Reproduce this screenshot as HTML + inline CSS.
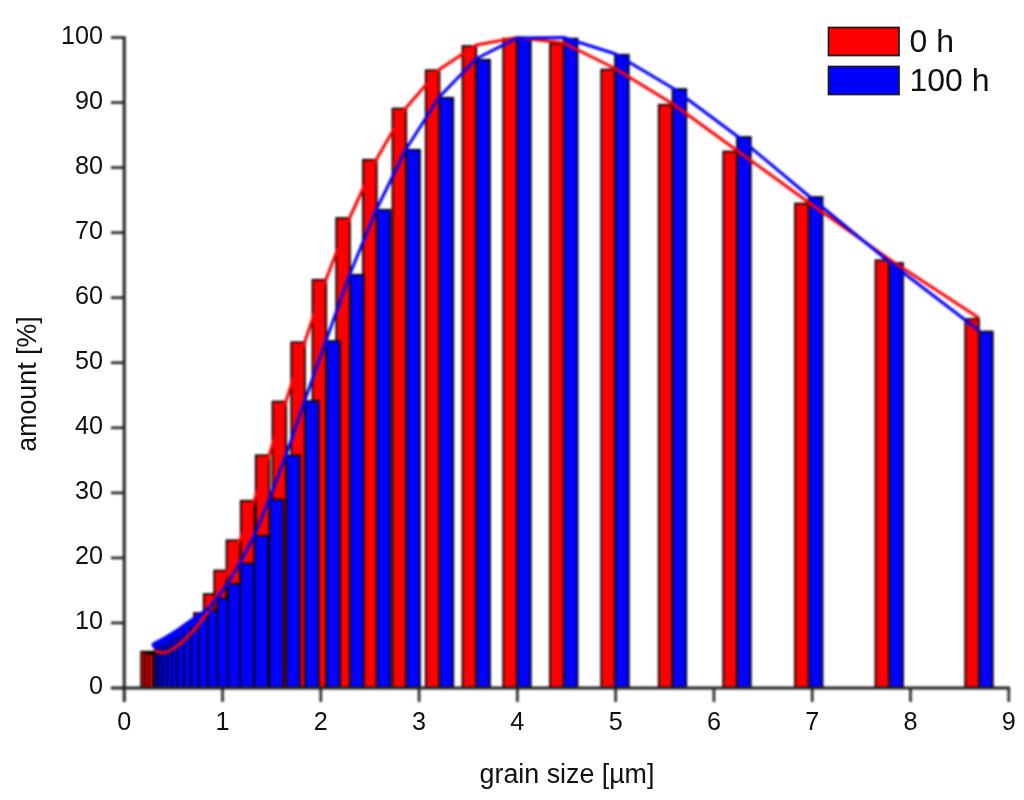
<!DOCTYPE html>
<html lang="en"><head><meta charset="utf-8"><title>grain size distribution</title>
<style>
html,body{margin:0;padding:0;background:#fff;}
body{width:1024px;height:800px;overflow:hidden;}
svg{display:block;}
text{font-family:"Liberation Sans",Arial,sans-serif;fill:#101010;}
.t{font-size:25.2px;}
.l{font-size:32px;}
.rb{fill:#ff0000;stroke:#000;stroke-width:1.7;}
.bb{fill:#0000ff;stroke:#000;stroke-width:1.7;}
.ax{stroke:#222;fill:none;}
</style></head><body>
<svg width="1024" height="800" viewBox="0 0 1024 800">
<defs><filter id="soft" x="0" y="0" width="1024" height="800" filterUnits="userSpaceOnUse" color-interpolation-filters="sRGB"><feGaussianBlur stdDeviation="0.85" color-interpolation-filters="sRGB"/></filter><clipPath id="cp"><rect x="100" y="37.2" width="924" height="652"/></clipPath></defs>

<g filter="url(#soft)"><rect x="0" y="0" width="1024" height="800" fill="#fff"/>
<g clip-path="url(#cp)">
<rect class="rb" x="141.10" y="651.60" width="13.80" height="36.40"/>
<rect class="rb" x="144.70" y="653.00" width="13.80" height="35.00"/>
<rect class="rb" x="148.70" y="654.00" width="13.80" height="34.00"/>
<rect class="rb" x="153.20" y="653.00" width="13.80" height="35.00"/>
<rect class="rb" x="158.20" y="650.50" width="13.80" height="37.50"/>
<rect class="rb" x="163.80" y="646.50" width="13.80" height="41.50"/>
<rect class="rb" x="170.00" y="641.50" width="13.80" height="46.50"/>
<rect class="rb" x="177.00" y="634.50" width="13.80" height="53.50"/>
<rect class="rb" x="184.80" y="625.50" width="13.80" height="62.50"/>
<rect class="rb" x="193.95" y="613.00" width="13.80" height="75.00"/>
<rect class="rb" x="203.70" y="594.00" width="13.80" height="94.00"/>
<rect class="rb" x="214.20" y="570.50" width="13.80" height="117.50"/>
<rect class="rb" x="226.45" y="540.25" width="13.80" height="147.75"/>
<rect class="rb" x="240.70" y="500.75" width="13.80" height="187.25"/>
<rect class="rb" x="255.70" y="455.25" width="13.80" height="232.75"/>
<rect class="rb" x="272.45" y="401.50" width="13.80" height="286.50"/>
<rect class="rb" x="291.20" y="342.25" width="13.80" height="345.75"/>
<rect class="rb" x="312.45" y="279.75" width="13.80" height="408.25"/>
<rect class="rb" x="336.20" y="218.00" width="13.80" height="470.00"/>
<rect class="rb" x="362.95" y="159.75" width="13.80" height="528.25"/>
<rect class="rb" x="392.45" y="108.50" width="13.80" height="579.50"/>
<rect class="rb" x="425.70" y="70.25" width="13.80" height="617.75"/>
<rect class="rb" x="462.45" y="46.00" width="13.80" height="642.00"/>
<rect class="rb" x="503.20" y="38.50" width="13.80" height="649.50"/>
<rect class="rb" x="549.95" y="44.00" width="13.80" height="644.00"/>
<rect class="rb" x="601.20" y="69.50" width="13.80" height="618.50"/>
<rect class="rb" x="658.70" y="104.75" width="13.80" height="583.25"/>
<rect class="rb" x="723.20" y="151.50" width="13.80" height="536.50"/>
<rect class="rb" x="794.95" y="203.50" width="13.80" height="484.50"/>
<rect class="rb" x="875.45" y="260.25" width="13.80" height="427.75"/>
<rect class="rb" x="965.20" y="319.00" width="13.80" height="369.00"/>
<rect class="bb" x="154.90" y="644.50" width="13.80" height="43.50"/>
<rect class="bb" x="158.50" y="642.50" width="13.80" height="45.50"/>
<rect class="bb" x="162.50" y="640.50" width="13.80" height="47.50"/>
<rect class="bb" x="167.00" y="638.00" width="13.80" height="50.00"/>
<rect class="bb" x="172.00" y="635.00" width="13.80" height="53.00"/>
<rect class="bb" x="177.60" y="631.50" width="13.80" height="56.50"/>
<rect class="bb" x="183.80" y="627.00" width="13.80" height="61.00"/>
<rect class="bb" x="190.80" y="622.00" width="13.80" height="66.00"/>
<rect class="bb" x="198.60" y="616.50" width="13.80" height="71.50"/>
<rect class="bb" x="207.75" y="610.50" width="13.80" height="77.50"/>
<rect class="bb" x="217.50" y="598.50" width="13.80" height="89.50"/>
<rect class="bb" x="228.00" y="584.00" width="13.80" height="104.00"/>
<rect class="bb" x="240.25" y="563.50" width="13.80" height="124.50"/>
<rect class="bb" x="254.50" y="536.00" width="13.80" height="152.00"/>
<rect class="bb" x="269.50" y="499.50" width="13.80" height="188.50"/>
<rect class="bb" x="286.25" y="455.50" width="13.80" height="232.50"/>
<rect class="bb" x="305.00" y="401.00" width="13.80" height="287.00"/>
<rect class="bb" x="326.25" y="341.00" width="13.80" height="347.00"/>
<rect class="bb" x="350.00" y="274.75" width="13.80" height="413.25"/>
<rect class="bb" x="376.75" y="209.75" width="13.80" height="478.25"/>
<rect class="bb" x="406.25" y="149.75" width="13.80" height="538.25"/>
<rect class="bb" x="439.50" y="97.75" width="13.80" height="590.25"/>
<rect class="bb" x="476.25" y="59.75" width="13.80" height="628.25"/>
<rect class="bb" x="517.00" y="39.00" width="13.80" height="649.00"/>
<rect class="bb" x="563.75" y="38.50" width="13.80" height="649.50"/>
<rect class="bb" x="615.00" y="54.75" width="13.80" height="633.25"/>
<rect class="bb" x="672.50" y="89.00" width="13.80" height="599.00"/>
<rect class="bb" x="737.00" y="137.00" width="13.80" height="551.00"/>
<rect class="bb" x="808.75" y="197.00" width="13.80" height="491.00"/>
<rect class="bb" x="889.25" y="263.00" width="13.80" height="425.00"/>
<rect class="bb" x="979.00" y="331.50" width="13.80" height="356.50"/>
</g>
<path d="M154.90 645.10 L158.50 643.10 L162.50 641.10 L167.00 638.60 L172.00 635.60 L177.60 632.10 L183.80 627.60 L190.80 622.60 L198.60 617.10 L207.75 611.10" fill="none" stroke="#0000ff" stroke-width="6.5" stroke-linejoin="round" stroke-linecap="round"/>
<path d="M154.90 650.60 L158.50 652.00 L162.50 653.00 L167.00 652.00 L172.00 649.50 L177.60 645.50 L183.80 640.50 L190.80 633.50 L198.60 624.50 L207.75 612.00 L217.50 593.00 L228.00 569.50 L240.25 539.25 L254.50 499.75 L269.50 454.25 L286.25 400.50 L305.00 341.25 L326.25 278.75 L350.00 217.00 L376.75 158.75 L406.25 107.50 L439.50 69.25 L476.25 45.00 L517.00 37.50 L563.75 43.00 L615.00 68.50 L672.50 103.75 L737.00 150.50 L808.75 202.50 L889.25 259.25 L979.00 318.00" fill="none" stroke="#ff0000" stroke-width="3" stroke-linejoin="round"/>
<path d="M154.90 643.50 L158.50 641.50 L162.50 639.50 L167.00 637.00 L172.00 634.00 L177.60 630.50 L183.80 626.00 L190.80 621.00 L198.60 615.50 L207.75 609.50 L217.50 597.50 L228.00 583.00 L240.25 562.50 L254.50 535.00 L269.50 498.50 L286.25 454.50 L305.00 400.00 L326.25 340.00 L350.00 273.75 L376.75 208.75 L406.25 148.75 L439.50 96.75 L476.25 58.75 L517.00 38.00 L563.75 37.50 L615.00 53.75 L672.50 88.00 L737.00 136.00 L808.75 196.00 L889.25 262.00 L979.00 330.50" fill="none" stroke="#0000ff" stroke-width="3" stroke-linejoin="round"/>
<g class="ax">
<path d="M124.25 36.20 V702.00" stroke-width="3"/>
<path d="M111.00 688.00 H1010.07" stroke-width="3"/>
<path d="M111 622.95 H124.25" stroke-width="2.6"/>
<path d="M111 557.90 H124.25" stroke-width="2.6"/>
<path d="M111 492.85 H124.25" stroke-width="2.6"/>
<path d="M111 427.80 H124.25" stroke-width="2.6"/>
<path d="M111 362.75 H124.25" stroke-width="2.6"/>
<path d="M111 297.70 H124.25" stroke-width="2.6"/>
<path d="M111 232.65 H124.25" stroke-width="2.6"/>
<path d="M111 167.60 H124.25" stroke-width="2.6"/>
<path d="M111 102.55 H124.25" stroke-width="2.6"/>
<path d="M111 37.50 H124.25" stroke-width="2.6"/>
<path d="M222.53 688.00 V702.00" stroke-width="2.6"/>
<path d="M320.81 688.00 V702.00" stroke-width="2.6"/>
<path d="M419.09 688.00 V702.00" stroke-width="2.6"/>
<path d="M517.37 688.00 V702.00" stroke-width="2.6"/>
<path d="M615.65 688.00 V702.00" stroke-width="2.6"/>
<path d="M713.93 688.00 V702.00" stroke-width="2.6"/>
<path d="M812.21 688.00 V702.00" stroke-width="2.6"/>
<path d="M910.49 688.00 V702.00" stroke-width="2.6"/>
<path d="M1008.77 688.00 V702.00" stroke-width="2.6"/>
</g>
</g>
<text class="t" x="103" y="694.40" text-anchor="end">0</text>
<text class="t" x="103" y="629.35" text-anchor="end">10</text>
<text class="t" x="103" y="564.30" text-anchor="end">20</text>
<text class="t" x="103" y="499.25" text-anchor="end">30</text>
<text class="t" x="103" y="434.20" text-anchor="end">40</text>
<text class="t" x="103" y="369.15" text-anchor="end">50</text>
<text class="t" x="103" y="304.10" text-anchor="end">60</text>
<text class="t" x="103" y="239.05" text-anchor="end">70</text>
<text class="t" x="103" y="174.00" text-anchor="end">80</text>
<text class="t" x="103" y="108.95" text-anchor="end">90</text>
<text class="t" x="103" y="43.90" text-anchor="end">100</text>
<text class="t" x="124.25" y="730" text-anchor="middle">0</text>
<text class="t" x="222.53" y="730" text-anchor="middle">1</text>
<text class="t" x="320.81" y="730" text-anchor="middle">2</text>
<text class="t" x="419.09" y="730" text-anchor="middle">3</text>
<text class="t" x="517.37" y="730" text-anchor="middle">4</text>
<text class="t" x="615.65" y="730" text-anchor="middle">5</text>
<text class="t" x="713.93" y="730" text-anchor="middle">6</text>
<text class="t" x="812.21" y="730" text-anchor="middle">7</text>
<text class="t" x="910.49" y="730" text-anchor="middle">8</text>
<text class="t" x="1008.77" y="730" text-anchor="middle">9</text>
<text class="t" x="567" y="783" text-anchor="middle" style="font-size:26.8px">grain size [µm]</text>
<text class="t" transform="translate(36 384) rotate(-90)" text-anchor="middle" style="font-size:26.8px">amount [%]</text>
<rect x="828.5" y="27.5" width="70.5" height="28" fill="#ff0000" stroke="#1a1a1a" stroke-width="1.7"/>
<rect x="828.5" y="66.5" width="70.5" height="28" fill="#0000ff" stroke="#1a1a1a" stroke-width="1.7"/>
<text class="l" x="909.5" y="52">0 h</text>
<text class="l" x="909.5" y="91.2">100 h</text>
</svg>
</body></html>
